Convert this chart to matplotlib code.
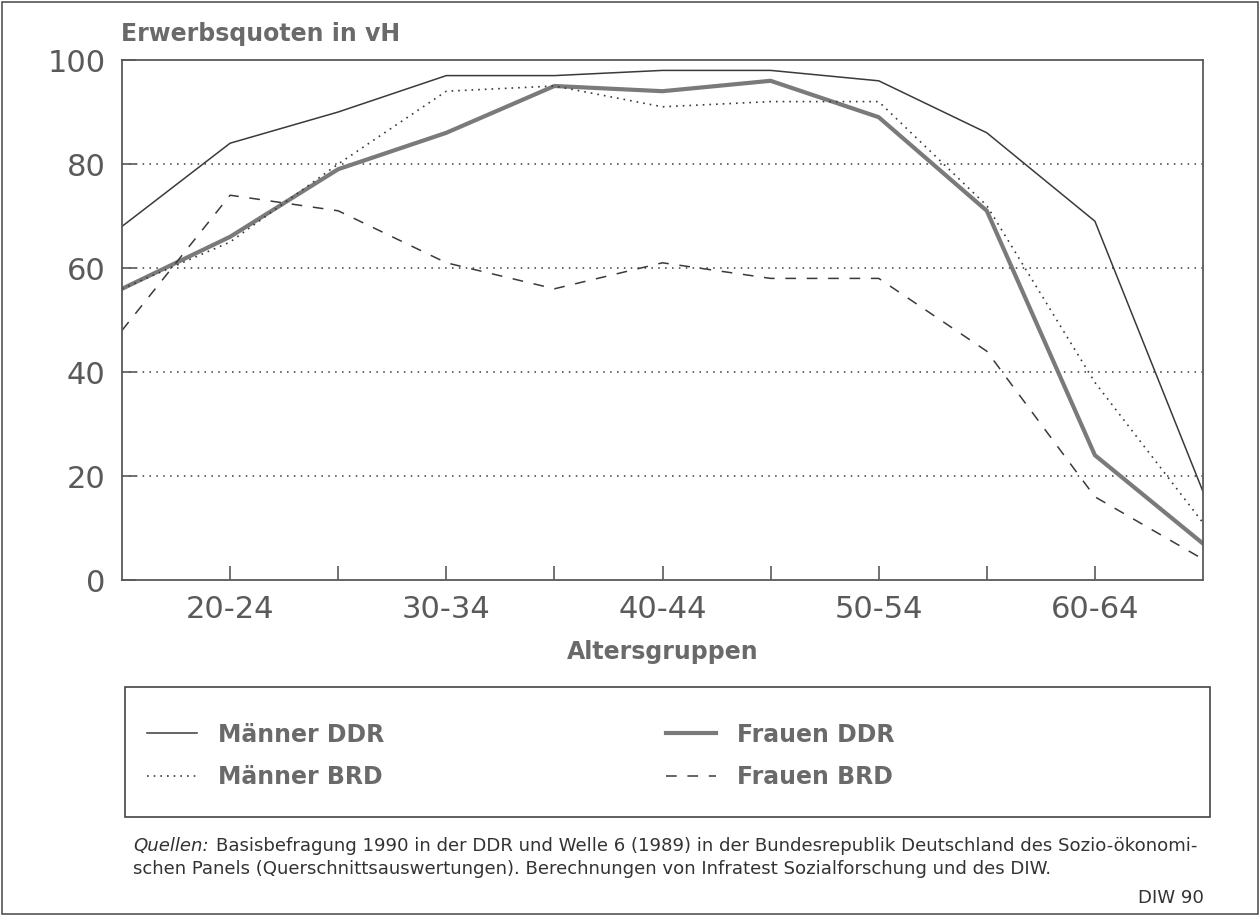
import matplotlib
matplotlib.use('Agg')
import matplotlib.pyplot as plt
from matplotlib.patches import Rectangle

# Age groups (x categories)
age_groups = ['15-19', '20-24', '25-29', '30-34', '35-39', '40-44',
              '45-49', '50-54', '55-59', '60-64', '65+']

# Erwerbsquoten in vH
maenner_ddr = [68, 84, 90, 97, 97, 98, 98, 96, 86, 69, 17]
frauen_ddr = [56, 66, 79, 86, 95, 94, 96, 89, 71, 24, 7]
maenner_brd = [56, 65, 80, 94, 95, 91, 92, 92, 72, 38, 11]
frauen_brd = [48, 74, 71, 61, 56, 61, 58, 58, 44, 16, 4]

y_ticks = [0, 20, 40, 60, 80, 100]
shown_labels = ['20-24', '30-34', '40-44', '50-54', '60-64']

W, H = 1260, 916
dark = '#3a3a3a'
grey = '#5a5a5a'
label_grey = '#6a6a6a'

def fx(px):
    return px / W

def fy(py):
    return 1 - py / H

fig = plt.figure(figsize=(12.6, 9.16), dpi=100)
fig.patch.set_facecolor('white')
fig.patches.append(Rectangle((0.0015, 0.002), 0.997, 0.996, transform=fig.transFigure,
                             fill=False, edgecolor='#555555', linewidth=1.2))

ax = fig.add_axes([fx(122), fy(580), fx(1203) - fx(122), 520 / H])
x = list(range(len(age_groups)))

l1, = ax.plot(x, maenner_ddr, color=dark, linewidth=1.1, label='Männer DDR')
l2, = ax.plot(x, frauen_ddr, color='#7a7a7a', linewidth=3.0, label='Frauen DDR')
l3, = ax.plot(x, maenner_brd, color=dark, linewidth=1.2, linestyle=(0, (1, 3)),
              label='Männer BRD')
l4, = ax.plot(x, frauen_brd, color=dark, linewidth=1.1, linestyle=(0, (7, 7)),
              label='Frauen BRD')

ax.set_xlim(0, len(age_groups) - 1)
ax.set_ylim(0, 100)
ax.set_yticks(y_ticks)
ax.set_yticklabels([str(v) for v in y_ticks])
ax.set_xticks(x[1:-1])
ax.set_xticklabels([a if a in shown_labels else '' for a in age_groups[1:-1]])

for v in y_ticks[1:-1]:
    ax.axhline(v, color=dark, linewidth=1.1, linestyle=(0, (1, 3.5)), zorder=0)

ax.tick_params(axis='both', direction='in', length=10, width=1.2, color=grey,
               labelcolor=grey, labelsize=22)
ax.tick_params(axis='y', pad=12)
ax.tick_params(axis='x', pad=11)
for s in ax.spines.values():
    s.set_color(grey)
    s.set_linewidth(1.3)

ax.set_xlabel('Altersgruppen', fontsize=17, fontweight='bold', color=label_grey,
              labelpad=11)
fig.text(fx(121), fy(41), 'Erwerbsquoten in vH', fontsize=17, fontweight='bold',
         color=label_grey, ha='left', va='baseline')

# legend box, drawn as two columns inside one frame
fig.patches.append(Rectangle((fx(125), fy(817)), fx(1210) - fx(125), 130 / H,
                             transform=fig.transFigure, fill=False,
                             edgecolor='#444444', linewidth=1.2))
leg_kw = dict(loc='center left', frameon=False, handlelength=2.1,
              handletextpad=0.9, labelspacing=0.8, borderpad=0, borderaxespad=0,
              prop={'weight': 'bold', 'size': 17})
leg1 = fig.legend(handles=[l1, l3], bbox_to_anchor=(fx(147), fy(756)), **leg_kw)
leg2 = fig.legend(handles=[l2, l4], bbox_to_anchor=(fx(666), fy(756)), **leg_kw)
for lg in (leg1, leg2):
    for t in lg.get_texts():
        t.set_color(label_grey)

# source note
foot = 'DejaVu Sans'
fs = 13.1
q = fig.text(fx(133), fy(855), 'Quellen:', fontsize=fs, style='italic',
             family=foot, color='#333333', va='bottom')
ax.annotate('Basisbefragung 1990 in der DDR und Welle 6 (1989) in der Bundesrepublik '
            'Deutschland des Sozio-ökonomi-',
            xy=(1, 0), xycoords=q, xytext=(5, 0), textcoords='offset points',
            fontsize=fs, family=foot, color='#333333', va='bottom',
            annotation_clip=False)
fig.text(fx(133), fy(878),
         'schen Panels (Querschnittsauswertungen). Berechnungen von Infratest '
         'Sozialforschung und des DIW.',
         fontsize=fs, family=foot, color='#333333', va='bottom')
fig.text(fx(1204), fy(907), 'DIW 90', fontsize=fs, family=foot,
         color='#333333', ha='right', va='bottom')

fig.savefig('out.png', dpi=100)
